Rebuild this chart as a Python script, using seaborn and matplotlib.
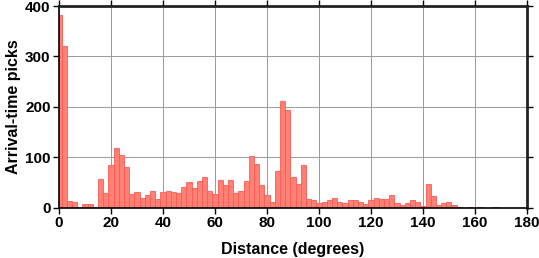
import numpy as np
import pandas as pd
import matplotlib
matplotlib.use("Agg")
import matplotlib.pyplot as plt
import seaborn as sns

# Bin centres (degrees, 2-degree bins) and pick counts
distance = list(range(0, 182, 2))
picks = [383, 320, 12, 11, 1, 6, 6, 1, 56, 29,
         84, 118, 104, 80, 27, 31, 19, 24, 32, 17,
         31, 33, 30, 28, 40, 50, 39, 52, 60, 32,
         27, 54, 44, 54, 29, 32, 52, 102, 86, 45,
         24, 11, 72, 212, 194, 60, 47, 84, 16, 14,
         9, 11, 14, 19, 11, 9, 15, 15, 11, 6,
         14, 19, 16, 16, 24, 9, 4, 9, 15, 11,
         3, 47, 23, 4, 9, 11, 4, 2, 0, 1,
         0, 1, 0, 0, 1, 0, 0, 0, 0, 0, 0]
xticks = [0, 20, 40, 60, 80, 100, 120, 140, 160, 180]
yticks = [0, 100, 200, 300, 400]

df = pd.DataFrame({"distance": distance, "picks": picks})

sns.set_theme(style="white")
plt.rcParams["font.family"] = ["Liberation Sans", "DejaVu Sans"]
plt.rcParams["font.weight"] = "bold"
plt.rcParams["text.color"] = "black"
plt.rcParams["axes.labelcolor"] = "black"
plt.rcParams["xtick.color"] = "black"
plt.rcParams["ytick.color"] = "black"

fig = plt.figure(figsize=(5.39, 2.58), dpi=100)
ax = fig.add_axes([0.1095, 0.1957, 0.868, 0.781])

sns.histplot(data=df, x="distance", weights="picks", binwidth=2,
             binrange=(-1, 181), ax=ax,
             color="#FF8075", edgecolor="#FF5A52", linewidth=0.6, alpha=1.0, zorder=2)

ax.set_xlim(0, 180)
ax.set_ylim(0, 400)
ax.set_xticks(xticks)
ax.set_yticks(yticks)
ax.set_xticklabels([str(t) for t in xticks], fontsize=11, fontweight="bold", color="black")
ax.set_yticklabels([str(t) for t in yticks], fontsize=11, fontweight="bold", color="black")
ax.grid(True, color="#999999", linewidth=0.7, zorder=0)
ax.set_axisbelow(True)

ax.tick_params(axis="both", which="both", direction="out", length=4, width=1,
               color="black", pad=2, top=True, right=True,
               labeltop=False, labelright=False, bottom=True, left=True)

for side in ["left", "bottom"]:
    ax.spines[side].set_linewidth(1.2)
    ax.spines[side].set_color("black")
for side in ["top", "right"]:
    ax.spines[side].set_linewidth(2.0)
    ax.spines[side].set_color("#222222")
    ax.spines[side].set_visible(True)
for s in ax.spines.values():
    s.set_zorder(5)

ax.set_xlabel("Distance (degrees)", fontsize=11.5, fontweight="bold", labelpad=9, color="black")
ax.set_ylabel("Arrival-time picks", fontsize=11.5, fontweight="bold", labelpad=3, color="black")

fig.savefig("out.png", dpi=100)
